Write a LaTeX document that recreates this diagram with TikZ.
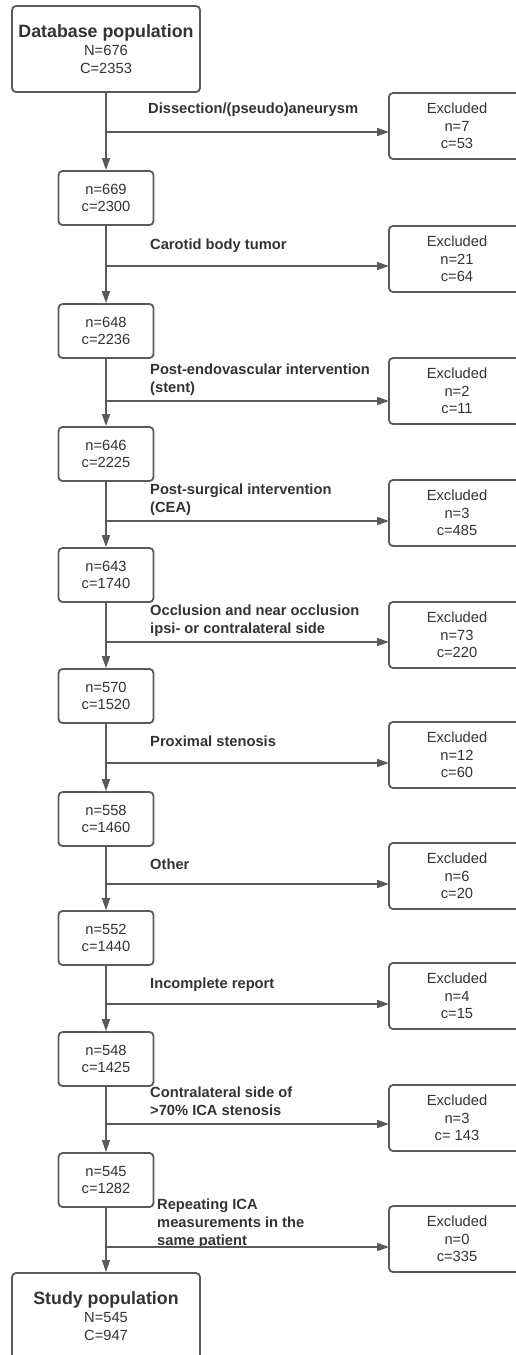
\documentclass[tikz,border=0pt]{standalone}
\usepackage{fontspec}
\setmainfont{Liberation Sans}
\usetikzlibrary{arrows.meta}

\definecolor{boxgray}{HTML}{5A5A5A}
\definecolor{inkgray}{HTML}{333333}

\begin{document}
\begin{tikzpicture}[x=1pt, y=-1pt,
    every node/.style={text=inkgray, font=\fontsize{14.7}{17.7}\selectfont},
    stage/.style={draw=boxgray, line width=1.8pt, rounded corners=4pt,
      minimum width=95pt, minimum height=54pt, inner sep=0pt, align=center},
    bigstage/.style={stage, minimum width=188pt, minimum height=86pt},
    excl/.style={stage, minimum width=136pt, minimum height=66pt},
    reason/.style={anchor=north west, inner sep=0pt, align=left,
      font=\fontsize{14.7}{17.7}\selectfont\bfseries},
    flow/.style={draw=boxgray, line width=1.6pt, -{Triangle[length=12pt, width=8pt]}}]

    \useasboundingbox (0,0) rectangle (515,1355);

    % start and end of the flow
    \node[bigstage] (s0) at (106,49)
      {{\fontsize{17.8}{20}\selectfont\bfseries Database population}\\N=676\\C=2353};
    \node[bigstage] (s10) at (106,1316)
      {{\fontsize{17.8}{20}\selectfont\bfseries Study population}\\N=545\\C=947};

    % remaining patients after each step
    \foreach \i/\y/\n/\c in {1/198/669/2300, 2/331/648/2236, 3/454/646/2225,
                             4/575/643/1740, 5/696/570/1520, 6/819/558/1460,
                             7/938/552/1440, 8/1059/548/1425, 9/1180/545/1282} {
      \node[stage] (s\i) at (106,\y) {n=\n\\c=\c};
    };

    % excluded boxes on the right
    \foreach \i/\y/\a/\n/\c in {1/126/132/7/53, 2/259/266/21/64, 3/391/401/2/11,
                                4/513/521/3/485, 5/635/642/73/220, 6/755/763/12/60,
                                7/876/884/6/20, 8/996/1004/4/15, 9/1118/1124/3/\ 143,
                                10/1239/1247/0/335} {
      \node[excl] (e\i) at (457,\y) {Excluded\\n=\n\\c=\c};
      \coordinate (a\i) at (389,\a);
    };

    % exclusion reasons
    \node[reason] (r1) at (148,103) {Dissection/(pseudo)aneurysm};
    \node[reason] (r2) at (150,239) {Carotid body tumor};
    \node[reason] (r3) at (150,364) {Post-endovascular intervention\\(stent)};
    \node[reason] (r4) at (150,484) {Post-surgical intervention\\(CEA)};
    \node[reason] (r5) at (150,605) {Occlusion and near occlusion\\ipsi- or contralateral side};
    \node[reason] (r6) at (150,736) {Proximal stenosis};
    \node[reason] (r7) at (150,859) {Other};
    \node[reason] (r8) at (150,978) {Incomplete report};
    \node[reason] (r9) at (150,1087) {Contralateral side of\\>70\% ICA stenosis};
    \node[reason] (r10) at (157,1199) {Repeating ICA\\measurements in the\\same patient};

    % arrows down the flow and out to the right
    \foreach \p/\q/\i in {s0/s1/1, s1/s2/2, s2/s3/3, s3/s4/4, s4/s5/5,
                          s5/s6/6, s6/s7/7, s7/s8/8, s8/s9/9, s9/s10/10} {
      \draw[flow] (\p) -- (\q);
      \draw[flow] (\p |- a\i) -- (a\i);
    };
\end{tikzpicture}
\end{document}
